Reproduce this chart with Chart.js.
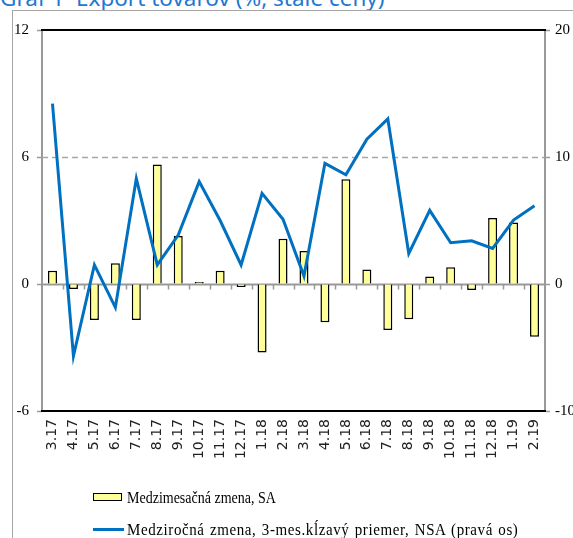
<!DOCTYPE html>
<html>
<head>
<meta charset="utf-8">
<script src="https://cdn.jsdelivr.net/npm/chart.js@4/dist/chart.umd.min.js"></script>
<style>
  html, body { margin:0; padding:0; background:#fff; }
  #wrap { position:relative; width:573px; height:538px; overflow:hidden; background:#fff; }
  #title { position:absolute; left:0px; top:-13px; font-family:"Noto Sans", sans-serif; font-size:22.5px; line-height:22px; color:#1e78d2; white-space:nowrap; }
  #frame { position:absolute; left:12px; top:10px; width:600px; height:600px; border-left:1.5px solid #a6a6a6; border-top:1.5px solid #a6a6a6; }
  #c { position:absolute; left:0; top:0; }
  .leg { position:absolute; left:127px; font-family:"Liberation Serif", serif; font-size:14px; line-height:16px; color:#000; white-space:nowrap; transform:scaleY(1.2); transform-origin:left center; }
  .box { position:absolute; left:93px; width:27px; height:6px; background:#ffff99; border:1.5px solid #000; }
  .ln { position:absolute; left:93px; width:31px; height:3px; background:#0070c0; }
</style>
</head>
<body>
<div id="wrap">
  <div id="title">Graf 1&nbsp; Export tovarov (%, stále ceny)</div>
  <div id="frame"></div>
  <canvas id="c" width="573" height="538"></canvas>
  <div class="box" style="top:493px;"></div>
  <div class="leg" style="top:490px;">Medzimesačná zmena, SA</div>
  <div class="ln" style="top:528px;"></div>
  <div class="leg" style="top:521px; font-size:15px; letter-spacing:0.6px; word-spacing:1px; transform:scaleY(1.12);">Medziročná zmena, 3-mes.kĺzavý priemer, NSA (pravá os)</div>
</div>
<script>
const categories = ['3.17','4.17','5.17','6.17','7.17','8.17','9.17','10.17','11.17','12.17','1.18','2.18','3.18','4.18','5.18','6.18','7.18','8.18','9.18','10.18','11.18','12.18','1.19','2.19'];
const momSA = [0.63,-0.24,-1.7,0.98,-1.7,5.65,2.27,0.1,0.63,-0.14,-3.24,2.14,1.56,-1.81,4.95,0.69,-2.17,-1.67,0.36,0.79,-0.28,3.12,2.9,-2.49];
const yoyNSA = [14.2,-5.67,1.5,-1.84,8.3,1.5,3.85,8.06,5.0,1.5,7.14,5.1,0.63,9.5,8.6,11.4,13.0,2.4,5.8,3.25,3.4,2.8,5.04,6.17];
const leftTicks = [-6, 0, 6, 12];
const rightTicks = [-10, 0, 10, 20];
const seriesNames = ['Medzimesačná zmena, SA', 'Medziročná zmena, 3-mes.kĺzavý priemer, NSA (pravá os)'];

const gridPlugin = {
  id: 'customGrid',
  beforeDatasetsDraw(chart) {
    const ctx = chart.ctx;
    const y = chart.scales.y;
    const x = chart.scales.x;
    const a = chart.chartArea;
    ctx.save();
    ctx.strokeStyle = '#a6a6a6';
    ctx.lineWidth = 1.5;
    ctx.setLineDash([6, 4]);
    const y6 = Math.round(y.getPixelForValue(6)) + 0.5;
    ctx.beginPath(); ctx.moveTo(a.left, y6); ctx.lineTo(a.right, y6); ctx.stroke();
    ctx.setLineDash([]);
    const y0 = Math.round(y.getPixelForValue(0)) + 0.5;
    ctx.strokeStyle = '#999999';
    ctx.lineWidth = 2;
    ctx.beginPath(); ctx.moveTo(a.left, y0); ctx.lineTo(a.right, y0); ctx.stroke();
    ctx.lineWidth = 1.5;
    ctx.beginPath();
    for (let i = 1; i < categories.length; i++) {
      const bx = Math.round((x.getPixelForTick(i) + x.getPixelForTick(i - 1)) / 2) + 0.5;
      ctx.moveTo(bx, y0); ctx.lineTo(bx, y0 + 5);
    }
    ctx.stroke();
    ctx.restore();
  },
  afterDatasetsDraw(chart) {
    const ctx = chart.ctx;
    const y = chart.scales.y;
    const a = chart.chartArea;
    ctx.save();
    ctx.strokeStyle = '#000';
    ctx.lineWidth = 2;
    [12, -6].forEach(v => {
      const py = Math.round(y.getPixelForValue(v));
      ctx.beginPath(); ctx.moveTo(a.left - 1, py); ctx.lineTo(a.right + 1, py); ctx.stroke();
    });
    ctx.restore();
  }
};

new Chart(document.getElementById('c'), {
  data: {
    labels: categories,
    datasets: [
      {
        type: 'line',
        label: seriesNames[1],
        data: yoyNSA,
        yAxisID: 'y1',
        borderColor: '#0070c0',
        borderWidth: 3,
        pointRadius: 0,
        tension: 0,
        fill: false,
        order: 1
      },
      {
        type: 'bar',
        label: seriesNames[0],
        data: momSA,
        yAxisID: 'y',
        backgroundColor: '#ffff99',
        borderColor: '#000000',
        borderWidth: 1.5,
        barPercentage: 0.5,
        categoryPercentage: 0.86,
        order: 2
      }
    ]
  },
  options: {
    responsive: false,
    animation: false,
    devicePixelRatio: 1,
    layout: { padding: { top: 30, left: 0, right: 0, bottom: 0 } },
    plugins: { legend: { display: false }, tooltip: { enabled: false }, title: { display: false } },
    scales: {
      x: {
        type: 'category',
        offset: true,
        grid: { display: false, drawTicks: false },
        border: { display: false },
        ticks: {
          minRotation: 90, maxRotation: 90, autoSkip: false, padding: 8,
          color: '#222', font: { family: 'DejaVu Sans', size: 14 }
        },
        afterFit(s) { s.height = 127; }
      },
      y: {
        position: 'left',
        min: -6, max: 12,
        afterBuildTicks(s) { s.ticks = leftTicks.map(v => ({ value: v })); },
        grid: { drawOnChartArea: false, drawTicks: true, tickLength: 5, tickColor: '#999', tickWidth: 1.5 },
        border: { display: true, color: '#999', width: 2 },
        ticks: { padding: 8, color: '#000', font: { family: 'Liberation Serif', size: 15 } },
        afterFit(s) { s.width = 42; }
      },
      y1: {
        position: 'right',
        min: -10, max: 20,
        afterBuildTicks(s) { s.ticks = rightTicks.map(v => ({ value: v })); },
        grid: { drawOnChartArea: false, drawTicks: true, tickLength: 5, tickColor: '#999', tickWidth: 1.5 },
        border: { display: true, color: '#999', width: 2 },
        ticks: { padding: 5, color: '#000', font: { family: 'Liberation Serif', size: 15 } },
        afterFit(s) { s.width = 28; }
      }
    }
  },
  plugins: [gridPlugin]
});
</script>
</body>
</html>
